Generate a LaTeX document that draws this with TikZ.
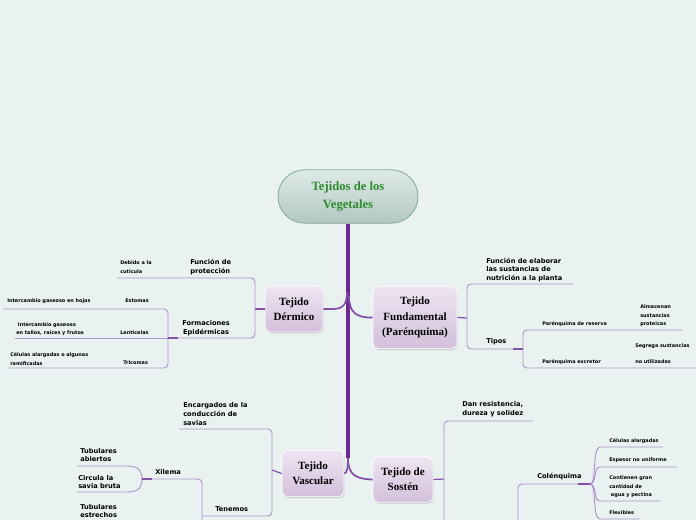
\documentclass[tikz,border=0pt]{standalone}
\usepackage{fontspec}
\setmainfont{DejaVu Sans}
\newfontfamily\gothfamily{Liberation Serif}
\usetikzlibrary{shadows}

\definecolor{bgc}{HTML}{E9F1F1}
\definecolor{trunkc}{HTML}{6A2A8E}
\definecolor{branchc}{HTML}{8250A6}
\definecolor{twigc}{HTML}{AE94C8}
\definecolor{tisstop}{HTML}{EEE5F2}
\definecolor{tissbot}{HTML}{D3BFDB}
\definecolor{roottop}{HTML}{DEE9E6}
\definecolor{rootbot}{HTML}{B2C8C3}
\definecolor{rootline}{HTML}{7FA8A0}
\definecolor{rootfont}{HTML}{2E8B2E}

\begin{document}
\begin{tikzpicture}[x=0.75pt, y=-0.75pt,
    trunk/.style={draw=trunkc, line width=3pt},
    branch/.style={draw=branchc, line width=1.3pt},
    twig/.style={draw=twigc, line width=0.7pt, rounded corners=3pt},
    rootbox/.style={rectangle, rounded corners=20pt, minimum width=105pt, minimum height=40pt,
        top color=roottop, bottom color=rootbot, draw=rootline, line width=0.6pt,
        align=center, text=rootfont, font=\gothfamily\bfseries\fontsize{9.5}{13.5}\selectfont},
    tissue/.style={rectangle, rounded corners=4pt, top color=tisstop, bottom color=tissbot,
        draw=white, line width=0.6pt, align=center,
        drop shadow={shadow xshift=0.5pt, shadow yshift=-1pt, fill=black!40, opacity=0.45},
        font=\gothfamily\bfseries\fontsize{8.3}{11.5}\selectfont},
    lbl/.style={anchor=west, inner sep=0pt, align=left, font=\bfseries\fontsize{5}{6.7}\selectfont},
    tiny/.style={anchor=west, inner sep=0pt, align=left, font=\bfseries\fontsize{3.7}{6.4}\selectfont}]
    \fill[bgc] (0,0) rectangle (696,520);
    \useasboundingbox (0,0) rectangle (696,520);

    % nodos principales
    \node[rootbox] (root) at (348,196.5) {Tejidos de los\\Vegetales};
    \node[tissue, minimum width=43.5pt, minimum height=34.5pt] (dermico) at (294,309) {Tejido\\Dérmico};
    \node[tissue, minimum width=63pt, minimum height=47pt] (fund) at (415,317.5) {Tejido\\Fundamental\\(Parénquima)};
    \node[tissue, minimum width=46.5pt, minimum height=35pt] (vasc) at (313,473.5) {Tejido\\Vascular};
    \node[tissue, minimum width=45pt, minimum height=34pt] (sost) at (403,479.5) {Tejido de\\Sostén};

    % tronco
    \coordinate (tk) at (348,458);
    \draw[trunk] (root.south) -- (tk);
    \draw[branch] (dermico.east) -- (333,309) .. controls (344,309) and (347,303) .. (347,292);
    \draw[branch] (349,296) .. controls (349,312) and (356,318) .. (fund.west);
    \draw[branch] (tk) .. controls (348,468) and (347,473) .. (vasc.east);
    \draw[branch] (tk) .. controls (348,475) and (356,479) .. (sost.west);

    % tejido dermico
    \node[lbl] (fprot) at (190,267) {Función de\\protección};
    \node[tiny] (debido) at (120,267) {Debido a la\\cuticula};
    \node[lbl, align=center] (formep) at (182,328) {Formaciones\\Epidérmicas};
    \node[tiny] (estomas) at (125,301) {Estomas};
    \node[tiny] (estomasd) at (7,301) {Intercambio gaseoso en hojas};
    \node[tiny] (lenti) at (120,333) {Lenticelas};
    \node[tiny] (lentid) at (16,329) {\ Intercambio gaseoso\\en tallos, raíces y frutos};
    \node[tiny] (trico) at (123,363) {Tricomas};
    \node[tiny] (tricod) at (10,359) {Células alargadas o algunas\\ramificadas};
    \coordinate (dj) at (255,309);
    \coordinate (fj) at (168,338);
    \draw[branch, line width=0.9pt] (dermico.west) -- (dj);
    \draw[twig] (117,278) -- (255,278) -- (255,338) -- (fj);
    \draw[twig] (3,309) -- (168,309) -- (168,368) -- (7,368);
    \draw[twig] (fj) -- (15,338);
    \draw[branch, line width=0.9pt] (fj) -- (178,338);

    % tejido fundamental
    \node[lbl] (felab) at (486,270) {Función de elaborar\\las sustancias de\\nutrición a la planta};
    \node[lbl] (tipos) at (486,342) {Tipos};
    \node[tiny] (preserva) at (542,324) {Parénquima de reserva};
    \node[tiny] (almac) at (640,316) {Almacenan\\sustancias\\proteicas};
    \node[tiny] (pexcr) at (542,362) {Parénquima excretor};
    \node[tiny] (segrega) at (635,346) {Segrega sustancias};
    \node[tiny] (noutil) at (635,362) {no utilizadas};
    \coordinate (uj) at (467,318);
    \coordinate (tj) at (523,349);
    \draw[branch, line width=0.9pt] (fund.east) -- (uj);
    \draw[twig] (573,284) -- (467,284) -- (467,349) -- (tj);
    \draw[twig] (682,330) -- (523,330) -- (523,368) -- (696,368);
    \draw[branch, line width=0.9pt] (513,349) -- (tj);

    % tejido vascular
    \node[lbl] (encarg) at (183,414) {Encargados de la\\conducción de\\savias};
    \node[lbl] (tenemos) at (215,509) {Tenemos};
    \node[lbl] (xilema) at (155,472) {Xilema};
    \node[lbl] (tubab) at (80,455) {Tubulares\\abiertos};
    \node[lbl] (circ) at (78,482) {Circula la\\savia bruta};
    \node[lbl] (tubes) at (80,511) {Tubulares\\estrechos};
    \coordinate (vj) at (272,470);
    \coordinate (xj) at (142,479);
    \draw[branch, line width=0.9pt] (vasc.west) -- (vj);
    \draw[twig] (179,429) -- (272,429) -- (272,516) -- (202,516);
    \draw[twig] (202,525) -- (202,479) -- (xj);
    \draw[twig] (xj) .. controls (142,467) and (134,466) .. (122,466) -- (77,466);
    \draw[twig] (xj) .. controls (142,491) and (134,492) .. (122,492) -- (77,492);
    \draw[branch, line width=0.9pt] (xj) -- (152,479);

    % tejido de sosten
    \node[lbl] (dan) at (462,409) {Dan resistencia,\\dureza y solidez};
    \node[lbl] (colen) at (537,477) {Colénquima};
    \node[tiny] (celal) at (609,441) {Células alargadas};
    \node[tiny] (espes) at (609,460) {Espesor no uniforme};
    \node[tiny] (conti) at (609,487) {Contienen gran\\cantidad de\\\ agua y pectina};
    \node[tiny] (flex) at (609,513) {Flexibles};
    \coordinate (sj) at (444,479);
    \coordinate (cj) at (590,484);
    \draw[branch, line width=0.9pt] (sost.east) -- (sj);
    \draw[twig] (533,421) -- (444,421) -- (444,525);
    \draw[twig] (518,525) -- (518,484) -- (cj);
    \draw[twig] (cj) .. controls (597,484) and (592,447) .. (604,447) -- (663,447);
    \draw[twig] (cj) .. controls (597,484) and (593,467) .. (604,467) -- (677,467);
    \draw[twig] (cj) .. controls (597,484) and (593,501) .. (604,501) -- (660,501);
    \draw[twig] (cj) .. controls (597,484) and (592,519) .. (604,519) -- (640,519);
    \draw[branch, line width=0.9pt] (578,484) -- (cj);
\end{tikzpicture}
\end{document}
